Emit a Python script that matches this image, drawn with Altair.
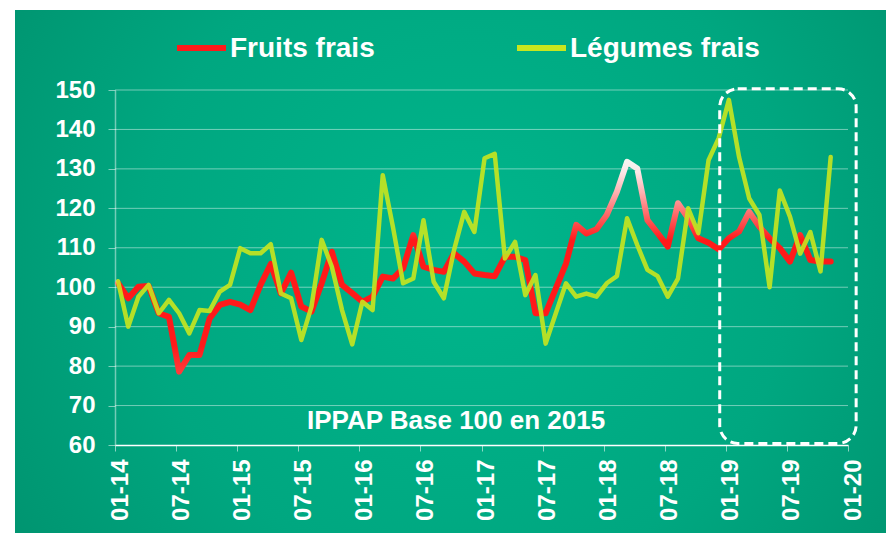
import altair as alt
import pandas as pd

# ---------------- data ----------------
x_labels = ["01-14", "07-14", "01-15", "07-15", "01-16", "07-16", "01-17",
            "07-17", "01-18", "07-18", "01-19", "07-19", "01-20"]
x_ticks = [0, 6, 12, 18, 24, 30, 36, 42, 48, 54, 60, 66, 72]
y_ticks = [60, 70, 80, 90, 100, 110, 120, 130, 140, 150]

months = [f"{m:02d}-{y}" for y in range(14, 20) for m in range(1, 13)][:71]

fruits = [101.0, 97.2, 100.1, 100.3, 93.4, 92.5, 78.6, 82.8, 82.8, 92.1,
          95.5, 96.3, 95.6, 94.2, 100.6, 105.9, 98.4, 103.7, 95.1, 93.8,
          101.0, 109.0, 100.6, 98.5, 96.3, 97.6, 102.7, 102.2, 104.8, 113.2,
          105.2, 104.4, 103.9, 108.6, 106.5, 103.5, 103.1, 102.8, 107.7, 107.7,
          106.9, 93.4, 93.4, 99.7, 106.0, 115.8, 113.6, 114.7, 118.3, 124.2,
          131.8, 130.1, 117.0, 113.7, 110.3, 121.3, 117.5, 112.4, 111.3, 109.6,
          112.4, 114.1, 119.1, 115.3, 112.4, 109.9, 106.5, 113.2, 106.9, 106.5,
          106.5]

legumes = [101.5, 90.0, 97.6, 100.6, 93.4, 96.8, 93.4, 88.3, 94.2, 94.0,
           98.9, 100.6, 109.9, 108.6, 108.6, 110.9, 98.4, 97.2, 86.6, 95.1,
           112.0, 105.2, 94.2, 85.5, 96.3, 94.2, 128.4, 115.3, 101.0, 102.2,
           117.0, 101.4, 97.2, 109.4, 119.1, 114.0, 132.7, 133.8, 107.3, 111.5,
           98.0, 103.1, 85.7, 93.4, 101.0, 97.6, 98.4, 97.6, 101.0, 102.8,
           117.5, 110.7, 104.4, 102.8, 97.6, 102.2, 120.0, 113.7, 132.2, 137.8,
           147.5, 133.0, 122.5, 118.3, 100.0, 124.5, 117.9, 108.5, 114.0, 104.0,
           133.0]

series_names = ["Fruits frais", "Légumes frais"]
series_colors = ["#ff1a1a", "#c8e61e"]
note_text = "IPPAP Base 100 en 2015"
note_pos = {"idx": 33.5, "val": 64.0}
box_region = {"start": 59.4, "end": 72.8, "low": 60.4, "high": 150.3}

# ---------------- layout ----------------
W, H = 733, 355
FONT = "Liberation Sans"
POINT_SHIFT = 0.3  # points sit slightly right of the month ticks

df = pd.DataFrame({"month": months, "idx": list(range(len(months))),
                   "fruits": fruits, "legumes": legumes})

xscale = alt.Scale(domain=[0, 72], nice=False, zero=False)
yscale = alt.Scale(domain=[60, 150], nice=False, zero=False)

label_arr = "[" + ",".join(f"'{l}'" for l in x_labels) + "]"
xaxis = alt.Axis(values=x_ticks, labelExpr=f"{label_arr}[round(datum.value/6)]",
                 labelAngle=270, labelFont=FONT, labelFontSize=24,
                 labelFontWeight="bold", labelColor="white", labelPadding=8,
                 labelOffset=5, labelFlush=False, labelOverlap=False,
                 tickColor="white", tickOpacity=0.55, tickSize=6,
                 domainColor="white", domainWidth=1.5, grid=False, title=None,
                 zindex=1)
yaxis = alt.Axis(values=y_ticks, labelFont=FONT, labelFontSize=24,
                 labelFontWeight="bold", labelColor="white", labelPadding=13,
                 tickColor="white", tickOpacity=0.5, tickSize=7,
                 domainColor="white", domainOpacity=0.45, domainWidth=1.5,
                 grid=False, title=None, zindex=1, labelOverlap=False)

# background panel (radial gradient)
bg_grad = alt.RadialGradient(
    gradient="radial",
    stops=[alt.GradientStop(color="#00b68c", offset=0),
           alt.GradientStop(color="#00a780", offset=0.5),
           alt.GradientStop(color="#008a67", offset=1)],
    x1=0.52, y1=0.48, r1=0, x2=0.52, y2=0.48, r2=0.75)
one = alt.Data(values=[{"k": 1}])
background = alt.Chart(one).mark_rect(fill=bg_grad).encode(
    x=alt.value(-100), x2=alt.value(771), y=alt.value(-80), y2=alt.value(443))

# grid lines
grid = alt.Chart(pd.DataFrame({"v": y_ticks[1:]})).mark_rule(
    color="white", opacity=0.45, strokeWidth=1).encode(
    y=alt.Y("v:Q", scale=yscale, axis=yaxis),
    x=alt.value(0), x2=alt.value(W))

# red gradient (lighter at higher values)
vmin, vmax = min(fruits), max(fruits)
def off(v):
    return max(0.0, min(1.0, (v - vmin) / (vmax - vmin)))
red_stops = [(vmin, "#ff3a3a"), (85, "#ff1a1a"), (112, "#ff1a1a"),
             (118, "#ff6262"), (124, "#ffb0b0"), (129, "#fde6e6"),
             (vmax, "#f4f4f0")]
red_grad = alt.LinearGradient(
    gradient="linear",
    stops=[alt.GradientStop(color=c, offset=off(v)) for v, c in red_stops],
    x1=0, x2=0, y1=1, y2=0)

base = alt.Chart(df).transform_calculate(pos=f"datum.idx + {POINT_SHIFT}")
red_line = base.mark_line(color=red_grad, strokeWidth=6, strokeJoin="round",
                          strokeCap="round").encode(
    x=alt.X("pos:Q", scale=xscale, axis=xaxis),
    y=alt.Y("fruits:Q", scale=yscale, axis=yaxis))
green_line = base.mark_line(color=series_colors[1], strokeWidth=4.5, opacity=0.9,
                            strokeJoin="round", strokeCap="round").encode(
    x=alt.X("pos:Q", scale=xscale, axis=xaxis),
    y=alt.Y("legumes:Q", scale=yscale, axis=yaxis))

# dashed highlight box
box = alt.Chart(alt.Data(values=[box_region])).mark_rect(
    fill="transparent", stroke="white", strokeWidth=3, strokeDash=[9, 5],
    cornerRadius=18).encode(
    x=alt.X("start:Q", scale=xscale, axis=xaxis), x2="end:Q",
    y=alt.Y("high:Q", scale=yscale, axis=yaxis), y2="low:Q")

# note
note = alt.Chart(alt.Data(values=[dict(note_pos, label=note_text)])).mark_text(
    font=FONT, fontSize=26, fontWeight="bold", color="white", align="center",
    baseline="alphabetic").encode(
    x=alt.X("idx:Q", scale=xscale, axis=xaxis),
    y=alt.Y("val:Q", scale=yscale, axis=yaxis), text="label:N")

# manual legend
leg_layers = []
for name, color, sx, tx in zip(series_names, series_colors, [62, 402], [115, 455]):
    d = alt.Data(values=[{"name": name}])
    leg_layers.append(alt.Chart(d).mark_rule(color=color, strokeWidth=6).encode(
        x=alt.value(sx), x2=alt.value(sx + 49), y=alt.value(-42)))
    leg_layers.append(alt.Chart(d).mark_text(
        font=FONT, fontSize=28, fontWeight="bold", color="white", align="left",
        baseline="alphabetic").encode(
        x=alt.value(tx), y=alt.value(-33), text="name:N"))

chart = alt.layer(background, grid, red_line, green_line, box, note,
                  *leg_layers).properties(
    width=W, height=H,
    padding={"left": 107, "top": 82, "right": 38, "bottom": 88},
    autosize=alt.AutoSizeParams(type="none"),
    background="white",
).configure_view(strokeWidth=0)

chart.save("out.html", embed_options={"renderer": "svg", "actions": False})
